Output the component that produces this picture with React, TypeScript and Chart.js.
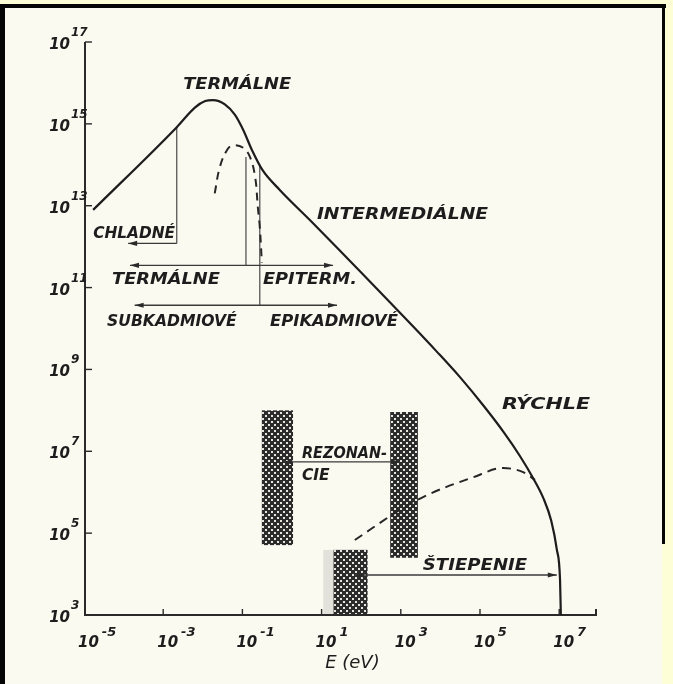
import { useEffect, useRef } from "react";
import { Chart, registerables } from "chart.js";

Chart.register(...registerables);

// Neutron flux spectrum of a thermal reactor vs. neutron energy E (eV)
const spectrumEnergy = [1.7e-5, 2.2e-3, 6.3e-3, 1.15e-2, 1.8e-2, 3.6e-2, 6.5e-2, 0.105, 0.174, 0.32, 0.89, 6.0, 2.0e3, 7.9e3, 3.2e4, 1.26e5, 4.0e5, 1.0e6, 2.2e6, 4.0e6, 6.3e6, 8.7e6, 1.05e7, 1.1e7];
const spectrumFlux = [7.9e12, 8.3e14, 2.5e15, 3.6e15, 3.8e15, 3.0e15, 1.66e15, 7.1e14, 2.3e14, 7.5e13, 2.4e13, 3.8e12, 1.15e10, 2.8e9, 6.3e8, 1.26e8, 2.9e7, 7.9e6, 2.2e6, 7.1e5, 2.0e5, 4.0e4, 7.2e3, 1e3];

// Maxwellian (thermal) component, dashed
const maxwellEnergy = [2.0e-2, 2.7e-2, 4.1e-2, 5.8e-2, 0.105, 0.155, 0.21, 0.245, 0.275, 0.31];
const maxwellFlux = [2.0e13, 8.9e13, 2.3e14, 3.0e14, 2.6e14, 1.55e14, 5.0e13, 9.3e12, 3.0e12, 4.0e11];

// Fission spectrum component, dashed
const fissionEnergy = [69, 950, 4.6e3, 6.6e4, 3.8e5, 1.23e6, 2.45e6];
const fissionFlux = [6.8e4, 3.7e5, 8.5e5, 2.3e6, 3.9e6, 3.1e6, 2.0e6];

// Vertical boundary markers: energy, upper and lower flux
const markerEnergy = [2.2e-3, 0.123, 0.275];
const markerTop = [8.3e14, 1.55e14, 1.0e14];
const markerBottom = [1.2e12, 3.5e11, 3.7e10];

// Range arrows: start energy, end energy, flux level, heads at start / end
const arrowFrom = [2.2e-3, 1.45e-4, 1.9e-4, 1.07, 69];
const arrowTo = [1.3e-4, 19.5, 24.5, 960, 8.7e6];
const arrowFlux = [1.2e12, 3.5e11, 3.7e10, 5.5e6, 9.5e3];
const arrowStartHead = [false, true, true, true, true];
const arrowEndHead = [true, true, true, true, true];

// Resonance and fission bands (cross-hatched): energy range, flux range
const bandEnergyLow = [0.31, 540, 20];
const bandEnergyHigh = [1.9, 2.7e3, 145];
const bandFluxLow = [5.1e4, 2.5e4, 1e3];
const bandFluxHigh = [1.0e8, 9.1e7, 3.9e4];

// Region labels: text, left / right energy, baseline flux
const labelText = ["TERMÁLNE", "CHLADNÉ", "TERMÁLNE", "EPITERM.", "SUBKADMIOVÉ", "EPIKADMIOVÉ", "INTERMEDIÁLNE", "RÝCHLE", "REZONAN-", "CIE", "ŠTIEPENIE"];
const labelLeft = [3.2e-3, 1.7e-5, 5.1e-5, 0.33, 3.8e-5, 0.5, 7.6, 3.6e5, 3.2, 3.2, 3.6e3];
const labelRight = [1.7, 2.0e-3, 2.7e-2, 78, 7.2e-2, 850, 1.6e5, 6.0e7, 450, 16, 1.55e6];
const labelFlux = [7.1e15, 1.6e12, 1.2e11, 1.2e11, 1.15e10, 1.15e10, 4.8e12, 1.07e8, 6.8e6, 2.0e6, 1.26e4];

// Axis ticks (powers of ten) and their exponents
const energyTicks = [1e-5, 1e-3, 1e-1, 1e1, 1e3, 1e5, 1e7];
const energyExponents = ["-5", "-3", "-1", "1", "3", "5", "7"];
const fluxTicks = [1e3, 1e5, 1e7, 1e9, 1e11, 1e13, 1e15, 1e17];
const fluxExponents = ["3", "5", "7", "9", "11", "13", "15", "17"];
const energyAxisTitle = "E (eV)";

const INK = "#1d1d1d";
const FONT = "'DejaVu Sans', sans-serif";

function makeHatch(ctx: CanvasRenderingContext2D): CanvasPattern | string {
  const tile = document.createElement("canvas");
  tile.width = 6;
  tile.height = 6;
  const g = tile.getContext("2d");
  if (!g) return "#333";
  g.fillStyle = "#2c2c2c";
  g.fillRect(0, 0, 6, 6);
  g.fillStyle = "#e6e6de";
  g.fillRect(1, 1, 2, 2);
  g.fillRect(4, 4, 2, 2);
  return ctx.createPattern(tile, "repeat") || "#333";
}

function stretchedText(ctx: CanvasRenderingContext2D, text: string, left: number, right: number, baseline: number, font: string) {
  ctx.font = font;
  const w = ctx.measureText(text).width;
  ctx.save();
  ctx.translate(left, baseline);
  ctx.scale((right - left) / w, 1);
  ctx.textAlign = "left";
  ctx.textBaseline = "alphabetic";
  ctx.fillText(text, 0, 0);
  ctx.restore();
}

function arrowHead(ctx: CanvasRenderingContext2D, x: number, y: number, dir: number) {
  ctx.beginPath();
  ctx.moveTo(x, y);
  ctx.lineTo(x - dir * 9, y - 2.6);
  ctx.lineTo(x - dir * 9, y + 2.6);
  ctx.closePath();
  ctx.fill();
}

const paperPlugin = {
  id: "paper",
  beforeDraw(chart: any) {
    const ctx: CanvasRenderingContext2D = chart.ctx;
    const { width, height } = chart;
    ctx.save();
    ctx.fillStyle = "#fdfdd6";
    ctx.fillRect(0, 0, width, height);
    ctx.fillStyle = "#fafaf1";
    ctx.fillRect(5, 8, 657, height - 8);
    ctx.fillStyle = "#050505";
    ctx.fillRect(0, 4, 666, 4);
    ctx.fillRect(0, 4, 5, height - 4);
    ctx.fillRect(662, 4, 3, 540);
    ctx.restore();
  },
  beforeDatasetsDraw(chart: any) {
    const ctx: CanvasRenderingContext2D = chart.ctx;
    const xs = chart.scales.x;
    const ys = chart.scales.y;
    const area = chart.chartArea;
    ctx.save();
    // pale shadow beside the fission band
    ctx.fillStyle = "#e2e2da";
    ctx.fillRect(xs.getPixelForValue(11), ys.getPixelForValue(bandFluxHigh[2]), xs.getPixelForValue(bandEnergyLow[2]) - xs.getPixelForValue(11), ys.getPixelForValue(bandFluxLow[2]) - ys.getPixelForValue(bandFluxHigh[2]));
    ctx.filter = "blur(0.6px)";
    ctx.fillStyle = makeHatch(ctx);
    for (let i = 0; i < bandEnergyLow.length; i++) {
      const x0 = xs.getPixelForValue(bandEnergyLow[i]);
      const x1 = xs.getPixelForValue(bandEnergyHigh[i]);
      const y0 = ys.getPixelForValue(bandFluxHigh[i]);
      const y1 = ys.getPixelForValue(bandFluxLow[i]);
      ctx.fillRect(x0, y0, x1 - x0, y1 - y0);
    }
    ctx.filter = "none";

    // axes
    ctx.strokeStyle = "#2a2a2a";
    ctx.lineWidth = 2;
    ctx.beginPath();
    ctx.moveTo(area.left + 1, area.top);
    ctx.lineTo(area.left + 1, area.bottom);
    ctx.lineTo(area.right, area.bottom);
    ctx.lineTo(area.right, area.bottom - 6);
    ctx.stroke();
    ctx.lineWidth = 1.4;
    for (const t of fluxTicks.slice(1)) {
      const y = ys.getPixelForValue(t);
      ctx.beginPath();
      ctx.moveTo(area.left + 1, y);
      ctx.lineTo(area.left + 8, y);
      ctx.stroke();
    }
    for (const t of energyTicks.slice(1)) {
      const x = xs.getPixelForValue(t);
      ctx.beginPath();
      ctx.moveTo(x, area.bottom);
      ctx.lineTo(x, area.bottom - 6);
      ctx.stroke();
    }

    // tick labels: 10 with a raised exponent
    ctx.fillStyle = INK;
    ctx.textBaseline = "alphabetic";
    fluxTicks.forEach((t, i) => {
      const y = ys.getPixelForValue(t);
      ctx.font = `italic bold 15px ${FONT}`;
      ctx.textAlign = "right";
      ctx.fillText("10", area.left - 14, y + 7);
      ctx.font = `italic bold 12px ${FONT}`;
      ctx.textAlign = "left";
      ctx.fillText(fluxExponents[i], area.left - 13, y - 6);
    });
    energyTicks.forEach((t, i) => {
      const x = xs.getPixelForValue(t);
      ctx.font = `italic bold 15px ${FONT}`;
      ctx.textAlign = "left";
      ctx.fillText("10", x - 6, area.bottom + 32);
      const w = ctx.measureText("10").width;
      ctx.font = `italic bold 13px ${FONT}`;
      ctx.fillText(energyExponents[i], x - 6 + w + 3, area.bottom + 21);
    });
    ctx.font = `italic 18px ${FONT}`;
    ctx.textAlign = "center";
    ctx.fillText(energyAxisTitle, xs.getPixelForValue(60), area.bottom + 53);
    ctx.restore();
  },
  afterDatasetsDraw(chart: any) {
    const ctx: CanvasRenderingContext2D = chart.ctx;
    const xs = chart.scales.x;
    const ys = chart.scales.y;
    ctx.save();
    ctx.strokeStyle = "#3a3a3a";
    ctx.fillStyle = "#2a2a2a";
    ctx.lineWidth = 1.3;
    for (let i = 0; i < arrowFrom.length; i++) {
      const x0 = xs.getPixelForValue(arrowFrom[i]);
      const x1 = xs.getPixelForValue(arrowTo[i]);
      const y = ys.getPixelForValue(arrowFlux[i]);
      ctx.beginPath();
      ctx.moveTo(x0, y);
      ctx.lineTo(x1, y);
      ctx.stroke();
      const dir = x1 > x0 ? 1 : -1;
      if (arrowEndHead[i]) arrowHead(ctx, x1, y, dir);
      if (arrowStartHead[i]) arrowHead(ctx, x0, y, -dir);
    }
    ctx.fillStyle = INK;
    for (let i = 0; i < labelText.length; i++) {
      stretchedText(
        ctx,
        labelText[i],
        xs.getPixelForValue(labelLeft[i]),
        xs.getPixelForValue(labelRight[i]),
        ys.getPixelForValue(labelFlux[i]),
        `italic bold 16px ${FONT}`
      );
    }
    ctx.restore();
  },
};

const pairs = (xs: number[], ys: number[]) => xs.map((x, i) => ({ x, y: ys[i] }));

export default function App() {
  const ref = useRef<HTMLCanvasElement>(null);

  useEffect(() => {
    const canvas = ref.current;
    if (!canvas) return;
    const markerSets = markerEnergy.map((e, i) => ({
      data: [
        { x: e, y: markerTop[i] },
        { x: e, y: markerBottom[i] },
      ],
      showLine: true,
      borderColor: "#4a4a4a",
      borderWidth: 1.2,
      pointRadius: 0,
      tension: 0,
    }));
    const chart = new Chart(canvas, {
      type: "scatter",
      data: {
        datasets: [
          {
            data: pairs(spectrumEnergy, spectrumFlux),
            showLine: true,
            borderColor: INK,
            borderWidth: 2.2,
            pointRadius: 0,
            cubicInterpolationMode: "monotone",
          },
          {
            data: pairs(maxwellEnergy, maxwellFlux),
            showLine: true,
            borderColor: "#262626",
            borderWidth: 2,
            borderDash: [8, 6],
            pointRadius: 0,
            tension: 0.4,
          },
          {
            data: pairs(fissionEnergy, fissionFlux),
            showLine: true,
            borderColor: "#262626",
            borderWidth: 2,
            borderDash: [9, 6],
            pointRadius: 0,
            cubicInterpolationMode: "monotone",
          },
          ...markerSets,
        ],
      },
      options: {
        responsive: false,
        devicePixelRatio: 1,
        animation: false,
        events: [],
        layout: { padding: { left: 84, top: 42, right: 77, bottom: 69 } },
        plugins: { legend: { display: false }, tooltip: { enabled: false } },
        scales: {
          x: { type: "logarithmic", min: 1e-5, max: 8.5e7, display: false },
          y: { type: "logarithmic", min: 1e3, max: 1e17, display: false },
        },
      },
      plugins: [paperPlugin],
    } as any);
    return () => chart.destroy();
  }, []);

  return (
    <div style={{ position: "fixed", left: 0, top: 0, width: 673, height: 684 }}>
      <canvas ref={ref} width={673} height={684} style={{ display: "block", width: 673, height: 684 }} />
    </div>
  );
}
